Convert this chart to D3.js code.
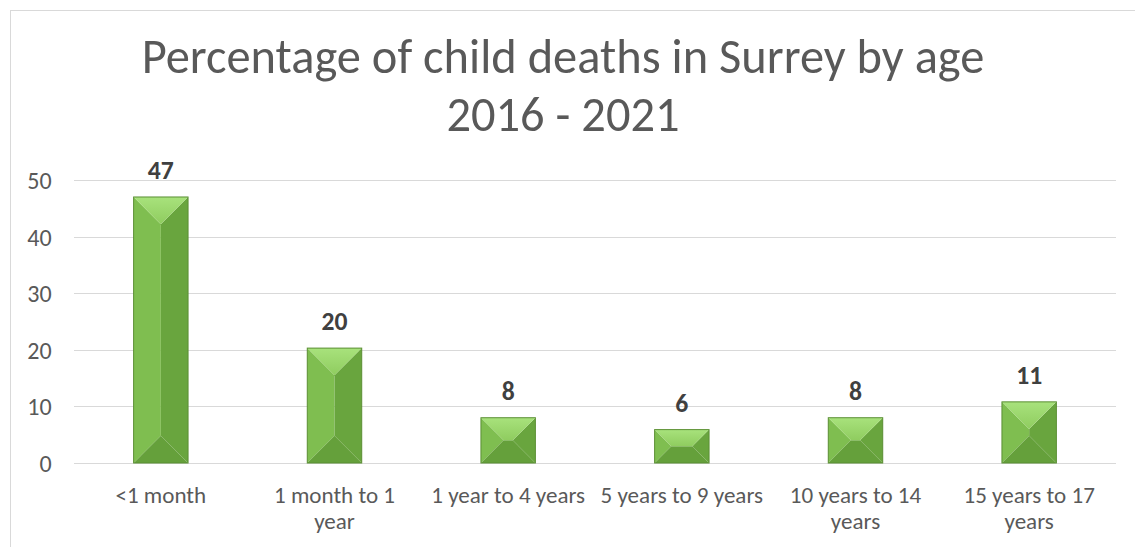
<!DOCTYPE html>
<html>
<head>
<meta charset="utf-8">
<script src="https://cdn.jsdelivr.net/npm/d3@7"></script>
<style>
  html, body { margin: 0; padding: 0; background: #ffffff; }
  svg { display: block; }
  text { font-family: Calibri, Carlito, Lato, "Open Sans", sans-serif; }
</style>
</head>
<body>
<svg id="chart" width="1135" height="547"></svg>
<script>
const categories = ["<1 month", "1 month to 1 year", "1 year to 4 years", "5 years to 9 years", "10 years to 14 years", "15 years to 17 years"];
const categoryLines = [["<1 month"], ["1 month to 1", "year"], ["1 year to 4 years"], ["5 years to 9 years"], ["10 years to 14", "years"], ["15 years to 17", "years"]];
const values = [47, 20.3, 8, 5.9, 8, 10.8];
const yTicks = [0, 10, 20, 30, 40, 50];
const titleLines = ["Percentage of child deaths in Surrey by age", "2016 - 2021"];

const svg = d3.select("#chart");
const W = 1135, H = 547;
const plot = { left: 74, right: 1116, top: 180, bottom: 463 };
const FONT = "Calibri, Carlito, Lato, 'Open Sans', sans-serif";

// helper: measure a text width at a given size and return size that fits target width
function fitSize(str, targetW, weight) {
  const t = svg.append("text").style("font-family", FONT).style("font-size", "100px")
    .style("font-weight", weight || "normal").text(str);
  const w = t.node().getComputedTextLength();
  t.remove();
  return 100 * targetW / w;
}

// chart area border
svg.append("rect").attr("x", 10.5).attr("y", 10.5).attr("width", W + 20).attr("height", H + 20)
  .attr("fill", "#ffffff").attr("stroke", "#d9d9d9").attr("stroke-width", 1);

const x = d3.scaleBand().domain(categories).range([plot.left, plot.right]).paddingInner(0).paddingOuter(0);
const y = d3.scaleLinear().domain([0, 50]).range([plot.bottom, plot.top]);

// gridlines
svg.append("g").selectAll("line").data(yTicks).join("line")
  .attr("x1", plot.left).attr("x2", plot.right)
  .attr("y1", d => Math.round(y(d)) + 0.5).attr("y2", d => Math.round(y(d)) + 0.5)
  .attr("stroke", "#d9d9d9").attr("stroke-width", 1);

// y axis labels
const tickFs = fitSize("50", 24.4);
const yAxis = d3.axisLeft(y).tickValues(yTicks).tickSize(0).tickPadding(0);
const gy = svg.append("g").attr("transform", `translate(${51.7},0)`).call(yAxis);
gy.attr("font-size", null).attr("font-family", null);
gy.select(".domain").remove();
gy.selectAll("text").attr("fill", "#595959").style("font-size", tickFs + "px")
  .style("font-family", FONT).attr("dy", "0.35em");

// bars with bevel facets
const barW = x.bandwidth() / 3.19;
const defs = svg.append("defs");
const gTop = defs.append("linearGradient").attr("id", "gTop").attr("x1", 0).attr("y1", 0).attr("x2", 0).attr("y2", 1);
gTop.append("stop").attr("offset", "0%").attr("stop-color", "#a8e27c");
gTop.append("stop").attr("offset", "100%").attr("stop-color", "#8fcc5f");

const valFs = fitSize("47", 26, "bold");
const barsG = svg.append("g");
values.forEach((v, i) => {
  const cx = x(categories[i]) + x.bandwidth() / 2;
  const x0 = cx - barW / 2, x1 = cx + barW / 2;
  const yt = y(v), yb = y(0);
  const h = yb - yt;
  const b = Math.min(barW / 2, h / 2);
  const g = barsG.append("g");
  const poly = (pts, fill) => g.append("polygon").attr("points", pts.map(p => p.join(",")).join(" ")).attr("fill", fill);
  poly([[x0, yt], [x0 + b, yt + b], [x0 + b, yb - b], [x0, yb]], "#7fbe50");
  poly([[x1, yt], [x1 - b, yt + b], [x1 - b, yb - b], [x1, yb]], "#69a53e");
  if (x1 - b > x0 + b) poly([[x0 + b, yt + b], [x1 - b, yt + b], [x1 - b, yb - b], [x0 + b, yb - b]], "#76b348");
  poly([[x0, yb], [x0 + b, yb - b], [x1 - b, yb - b], [x1, yb]], "#65a03b");
  poly([[x0, yt], [x1, yt], [x1 - b, yt + b], [x0 + b, yt + b]], "url(#gTop)");
  g.append("rect").attr("x", x0).attr("y", yt).attr("width", barW).attr("height", h)
    .attr("fill", "none").attr("stroke", "#5b8f34").attr("stroke-width", 1);
  svg.append("text").attr("x", cx).attr("y", yt - 18).attr("text-anchor", "middle")
    .attr("fill", "#404040").style("font-size", valFs + "px").style("font-weight", "bold")
    .text(d3.format(".0f")(v));
});

// category labels
const catFs = fitSize("1 year to 4 years", 154);
const catG = svg.append("g");
categoryLines.forEach((lines, i) => {
  const cx = x(categories[i]) + x.bandwidth() / 2;
  lines.forEach((ln, j) => {
    catG.append("text").attr("x", cx).attr("y", 503 + j * 26).attr("text-anchor", "middle")
      .attr("fill", "#595959").style("font-size", catFs + "px").text(ln);
  });
});

// title
const fs = fitSize(titleLines[0], 843);
svg.append("text").attr("x", 563).attr("y", 73).attr("text-anchor", "middle")
  .attr("fill", "#595959").style("font-size", fs + "px").text(titleLines[0]);
svg.append("text").attr("x", 563).attr("y", 131).attr("text-anchor", "middle")
  .attr("fill", "#595959").style("font-size", fs + "px").text(titleLines[1]);
</script>
</body>
</html>
